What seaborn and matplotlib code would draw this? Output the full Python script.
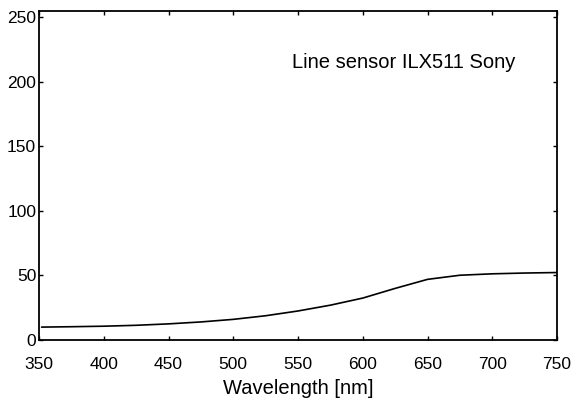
import matplotlib
matplotlib.use("Agg")
import matplotlib.pyplot as plt
import seaborn as sns
import pandas as pd

# spectral response
wavelength = [352, 375, 400, 425, 450, 475, 500, 525, 550, 575, 600, 625, 650, 675, 700, 725, 750]
response = [10.0, 10.3, 10.7, 11.4, 12.5, 14.0, 16.0, 18.8, 22.5, 27.0, 32.5, 40.0, 47.0, 50.2, 51.3, 51.9, 52.3]

x_ticks = [350, 400, 450, 500, 550, 600, 650, 700, 750]
y_ticks = [0, 50, 100, 150, 200, 250]

df = pd.DataFrame({"Wavelength": wavelength, "Response": response})

sns.set_style("ticks")
plt.rcParams["font.family"] = ["Liberation Sans", "DejaVu Sans"]
plt.rcParams["text.color"] = "black"
plt.rcParams["axes.labelcolor"] = "black"

fig = plt.figure(figsize=(5.71, 4.07), dpi=100)
ax = fig.add_axes([0.0683, 0.1646, 0.9072, 0.8084])

sns.lineplot(data=df, x="Wavelength", y="Response", color="black", linewidth=1.2, ax=ax)

ax.set_xlim(350, 750)
ax.set_ylim(0, 255)
ax.set_xticks(x_ticks)
ax.set_yticks(y_ticks)
ax.tick_params(direction="in", length=3, width=1.0, top=True, right=True, labelsize=12.5, colors="black")
ax.tick_params(axis="x", pad=12)
ax.tick_params(axis="y", pad=2)
for s in ax.spines.values():
    s.set_visible(True)
    s.set_linewidth(1.3)
    s.set_color("black")

ax.set_xlabel("Wavelength [nm]", fontsize=14.5, labelpad=5)
ax.set_ylabel("")
ax.text(545, 211, "Line sensor ILX511 Sony", fontsize=14.5, ha="left", va="baseline")

fig.savefig("out.png", dpi=100)
